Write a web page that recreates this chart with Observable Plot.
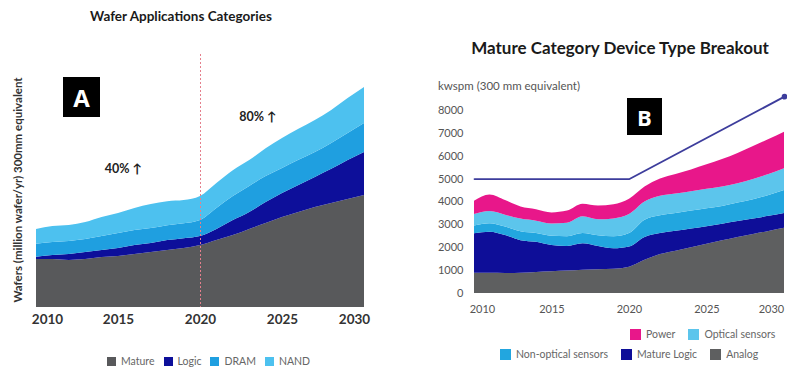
<!DOCTYPE html>
<html><head><meta charset="utf-8">
<script src="https://cdn.jsdelivr.net/npm/d3@7"></script>
<script src="https://cdn.jsdelivr.net/npm/@observablehq/plot@0.6"></script>
<style>
body{margin:0;background:#fff;font-family:Lato,"Open Sans",sans-serif;}
#root{position:relative;width:787px;height:367px;overflow:hidden;background:#fff;}
.abs{position:absolute;white-space:nowrap;}
.title{font-weight:bold;color:#1a1a1a;text-align:center;}
.badge{background:#000;color:#fff;font-weight:bold;display:flex;align-items:center;justify-content:center;font-family:"Open Sans",sans-serif;}
.leg{display:flex;align-items:center;color:#666;}
.leg .it{display:flex;align-items:center;}
.leg .sw{display:inline-block;width:9px;height:9px;margin-right:5px;}
</style></head><body><div id="root"></div>
<script>
// ---------- Panel A: Wafer Applications Categories ----------
const yearsA = [2010,2011,2012,2013,2014,2015,2016,2017,2018,2019,2020,2021,2022,2023,2024,2025,2026,2027,2028,2029,2030];
const seriesA = ["Mature","Logic","DRAM","NAND"];
const colorsA = ["#58595b","#0d0f9a","#1f9fe0","#4dc1ef"];
const matureA = [21.8,21.8,21.4,21.8,22.7,23.2,24.1,25.0,25.9,26.8,28.2,30.5,32.7,35.5,38.2,40.9,43.2,45.5,47.3,49.1,50.9];
const logicA  = [1.0,1.8,2.7,3.2,3.2,3.6,4.1,4.1,4.5,4.5,4.1,5.0,6.8,7.7,9.5,10.9,12.3,13.6,15.5,17.7,19.5];
const dramA   = [5.9,5.9,5.9,5.9,6.4,6.8,6.8,6.8,6.8,6.8,7.3,9.5,10.9,11.8,11.8,11.4,11.4,11.4,11.8,12.3,13.2];
const nandA   = [6.8,7.3,7.3,7.7,8.6,9.1,10.0,10.9,10.9,10.5,10.9,11.4,11.8,11.8,12.7,13.6,14.1,14.5,15.0,15.9,16.4];
const tickYearsA = [2010,2015,2020,2025,2030];
const dividerYearA = [2020];
const annotYearsA = [2015.3, 2023.5];
const annotValuesA = [63, 86.4];
const annotTextsA = ["40% \u2191", "80% \u2191"];
const yLabelA = "Wafers (million wafer/yr) 300mm equivalent";
const titleA = "Wafer Applications Categories";

// ---------- Panel B: Mature Category Device Type Breakout ----------
const yearsB = [2010,2011,2012,2013,2014,2015,2016,2017,2018,2019,2020,2021,2022,2023,2024,2025,2026,2027,2028,2029,2030];
const seriesB = ["Analog","Mature Logic","Non-optical sensors","Optical sensors","Power"];
const colorsB = ["#5e5f60","#0e0e98","#22a6df","#5cc5ec","#e8178a"];
const analogB     = [880,880,870,880,920,950,980,1020,1040,1060,1150,1450,1700,1850,2000,2150,2300,2450,2580,2710,2850];
const matureLogicB= [1730,1800,1660,1430,1320,1150,1070,1150,1010,890,880,1000,920,870,820,770,730,700,680,660,650];
const nonOpticalB = [340,370,370,390,380,400,430,450,470,530,590,750,780,780,780,780,770,800,840,910,1000];
const opticalB    = [500,530,520,550,540,540,590,730,700,780,830,800,850,850,850,850,850,850,880,920,950];
const powerB      = [580,720,640,530,500,480,530,550,600,620,670,650,750,850,950,1070,1200,1320,1440,1530,1600];
const capYearsB = [2010,2020,2030];
const capValuesB = [5000,5000,8600];
const yTicksB = [0,1000,2000,3000,4000,5000,6000,7000,8000];
const tickYearsB = [2010,2015,2020,2025,2030];
const titleB = "Mature Category Device Type Breakout";
const unitB = "kwspm (300 mm equivalent)";
const legendRowsB = [["Power","Optical sensors"],["Non-optical sensors","Mature Logic","Analog"]];

const root = document.getElementById("root");
function addDiv(cls, css, html){const d=document.createElement("div");d.className="abs "+cls;d.style.cssText=css;d.innerHTML=html;root.appendChild(d);return d;}

// tidy data
const valsA = [matureA, logicA, dramA, nandA];
const dataA = [];
seriesA.forEach((s,i)=>yearsA.forEach((y,j)=>dataA.push({year:y, series:s, value:valsA[i][j]})));
const valsB = [analogB, matureLogicB, nonOpticalB, opticalB, powerB];
const dataB = [];
seriesB.forEach((s,i)=>yearsB.forEach((y,j)=>dataB.push({year:y, series:s, value:valsB[i][j]})));
const capB = capYearsB.map((y,i)=>({year:y, value:capValuesB[i]}));
const annA = annotYearsA.map((y,i)=>({year:y, value:annotValuesA[i], text:annotTextsA[i]}));

const plotA = Plot.plot({
  width: 400, height: 335,
  marginLeft: 36, marginRight: 36, marginTop: 54, marginBottom: 28,
  x: {domain: [2010, 2030], axis: null},
  y: {domain: [0, 115], axis: null},
  color: {domain: seriesA, range: colorsA},
  style: {fontFamily: "Lato, 'Open Sans', sans-serif", background: "transparent"},
  marks: [
    Plot.areaY(dataA, {x: "year", y: "value", fill: "series", order: seriesA, curve: "monotone-x"}),
    Plot.ruleX(dividerYearA, {stroke: "#e57f8c", strokeWidth: 1, strokeDasharray: "2,2"}),
    Plot.text(annA, {x: "year", y: "value", text: "text", fontSize: 12.5, fontWeight: "bold", fill: "#222"}),
    Plot.text(tickYearsA.slice(1,4), {x: d=>d, text: d=>String(d), frameAnchor: "bottom", dy: 16, fontSize: 13.5, fontWeight: "bold", fill: "#333"}),
    Plot.text(tickYearsA.slice(0,1), {x: d=>d, text: d=>String(d), frameAnchor: "bottom", dy: 16, dx: 11, fontSize: 13.5, fontWeight: "bold", fill: "#333"}),
    Plot.text(tickYearsA.slice(4), {x: d=>d, text: d=>String(d), frameAnchor: "bottom", dy: 16, dx: -10, fontSize: 13.5, fontWeight: "bold", fill: "#333"}),
    Plot.text([yLabelA], {text: d=>d, frameAnchor: "left", textAnchor: "middle", rotate: -90, dx: -18, dy: 9, fontSize: 11.5, fontWeight: "bold", fill: "#333"})
  ]
});
plotA.style.position = "absolute"; plotA.style.left = "0px"; plotA.style.top = "0px";
root.appendChild(plotA);

const plotB = Plot.plot({
  width: 387, height: 330,
  marginLeft: 74, marginRight: 3, marginTop: 87, marginBottom: 37,
  x: {domain: [2010, 2030], axis: null},
  y: {domain: [0, 9000], axis: null},
  color: {domain: seriesB, range: colorsB},
  style: {fontFamily: "Lato, 'Open Sans', sans-serif", background: "transparent", color: "#555"},
  marks: [
    Plot.areaY(dataB, {x: "year", y: "value", fill: "series", order: seriesB, curve: "monotone-x"}),
    Plot.line(capB, {x: "year", y: "value", stroke: "#3d3d9c", strokeWidth: 1.8}),
    Plot.dot(capB.slice(-1), {x: "year", y: "value", r: 2.8, fill: "#3d3d9c"}),
    Plot.axisY({ticks: yTicksB, tickSize: 0, tickPadding: 11, tickFormat: d=>String(d), fontSize: 11, label: null}),
    Plot.text(tickYearsB.slice(1,4), {x: d=>d, text: d=>String(d), frameAnchor: "bottom", dy: 19, fontSize: 11, fill: "#555"}),
    Plot.text(tickYearsB.slice(0,1), {x: d=>d, text: d=>String(d), frameAnchor: "bottom", dy: 19, dx: 8, fontSize: 11, fill: "#555"}),
    Plot.text(tickYearsB.slice(4), {x: d=>d, text: d=>String(d), frameAnchor: "bottom", dy: 19, dx: -13, fontSize: 11, fill: "#555"})
  ]
});
plotB.style.position = "absolute"; plotB.style.left = "400px"; plotB.style.top = "0px";
root.appendChild(plotB);

// titles, badges, labels
addDiv("title", "left:61px;top:8px;width:240px;font-size:13.5px;", titleA);
addDiv("title", "left:440px;top:37px;width:360px;font-size:17px;", titleB);
addDiv("badge", "left:63px;top:77px;width:37px;height:40px;font-size:24px;", "A");
addDiv("badge", "left:627px;top:98px;width:35px;height:37px;font-size:22px;", "B");
addDiv("", "left:438px;top:79px;font-size:11.5px;color:#555;", unitB);

// legends
const legA = addDiv("leg", "left:107px;top:355px;font-size:10.5px;", "");
seriesA.forEach((s,i)=>{legA.innerHTML += `<span class="it" style="margin-right:9px"><span class="sw" style="background:${colorsA[i]}"></span>${s}</span>`;});
const rowLefts = [630, 500];
const rowTops = [328, 348];
legendRowsB.forEach((row,r)=>{
  const d = addDiv("leg", `left:${rowLefts[r]}px;top:${rowTops[r]}px;font-size:10.5px;`, "");
  row.forEach(s=>{const c = colorsB[seriesB.indexOf(s)]; d.innerHTML += `<span class="it" style="margin-right:13px"><span class="sw" style="width:11px;height:11px;background:${c}"></span>${s}</span>`;});
});
</script></body></html>
